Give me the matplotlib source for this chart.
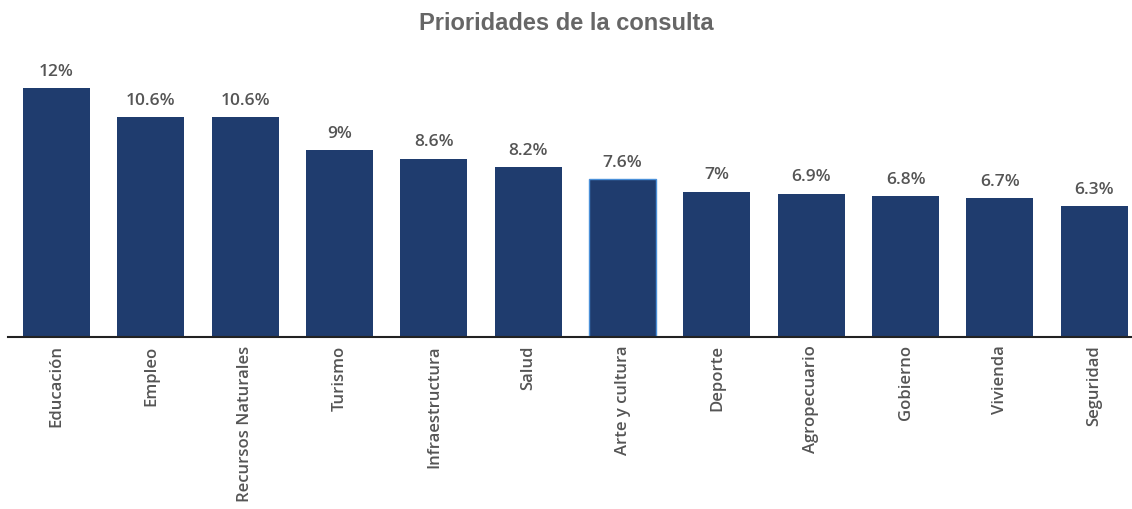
import matplotlib
matplotlib.use('Agg')
import matplotlib.pyplot as plt

categories = ['Educación', 'Empleo', 'Recursos Naturales', 'Turismo', 'Infraestructura',
              'Salud', 'Arte y cultura', 'Deporte', 'Agropecuario', 'Gobierno',
              'Vivienda', 'Seguridad']
values = [12, 10.6, 10.6, 9, 8.6, 8.2, 7.6, 7, 6.9, 6.8, 6.7, 6.3]
labels = ['12%', '10.6%', '10.6%', '9%', '8.6%', '8.2%', '7.6%', '7%', '6.9%', '6.8%', '6.7%', '6.3%']

bar_color = '#1f3c6e'
text_color = '#555555'

fig = plt.figure(figsize=(11.32, 5.09), dpi=100)
# axes placed in pixel coords: baseline at y=337, top at y=50
ax = fig.add_axes([8 / 1132, (509 - 337) / 509, 1 - 8 / 1132, 287 / 509])

x = list(range(len(categories)))
bars = ax.bar(x, values, width=0.71, color=bar_color, zorder=2)
# hovered bar in the reference has a light outline
bars[6].set_edgecolor('#4a90d9')
bars[6].set_linewidth(1)

for xi, v, lab in zip(x, values, labels):
    ax.annotate(lab, (xi, v), xytext=(0, 6), textcoords='offset points',
                ha='center', va='bottom', fontsize=12.5, color=text_color,
                family='Open Sans', fontweight='semibold')

ax.set_xlim(-0.515, 11.4)
ax.set_ylim(0, 287 / 20.75)
ax.set_xticks(x)
ax.set_xticklabels(categories, rotation=90, fontsize=12, color=text_color,
                   family='Open Sans', fontweight='semibold')
ax.tick_params(axis='x', length=0, pad=6)
ax.set_yticks([])
for s in ['top', 'right', 'left']:
    ax.spines[s].set_visible(False)
ax.spines['bottom'].set_color('#222222')
ax.spines['bottom'].set_linewidth(1.5)

fig.text(0.5, 1 - 23 / 509, 'Prioridades de la consulta', ha='center', va='center',
         fontsize=17, fontweight='bold', color='#666666', family='Liberation Sans')

fig.savefig('out.png', dpi=100)
